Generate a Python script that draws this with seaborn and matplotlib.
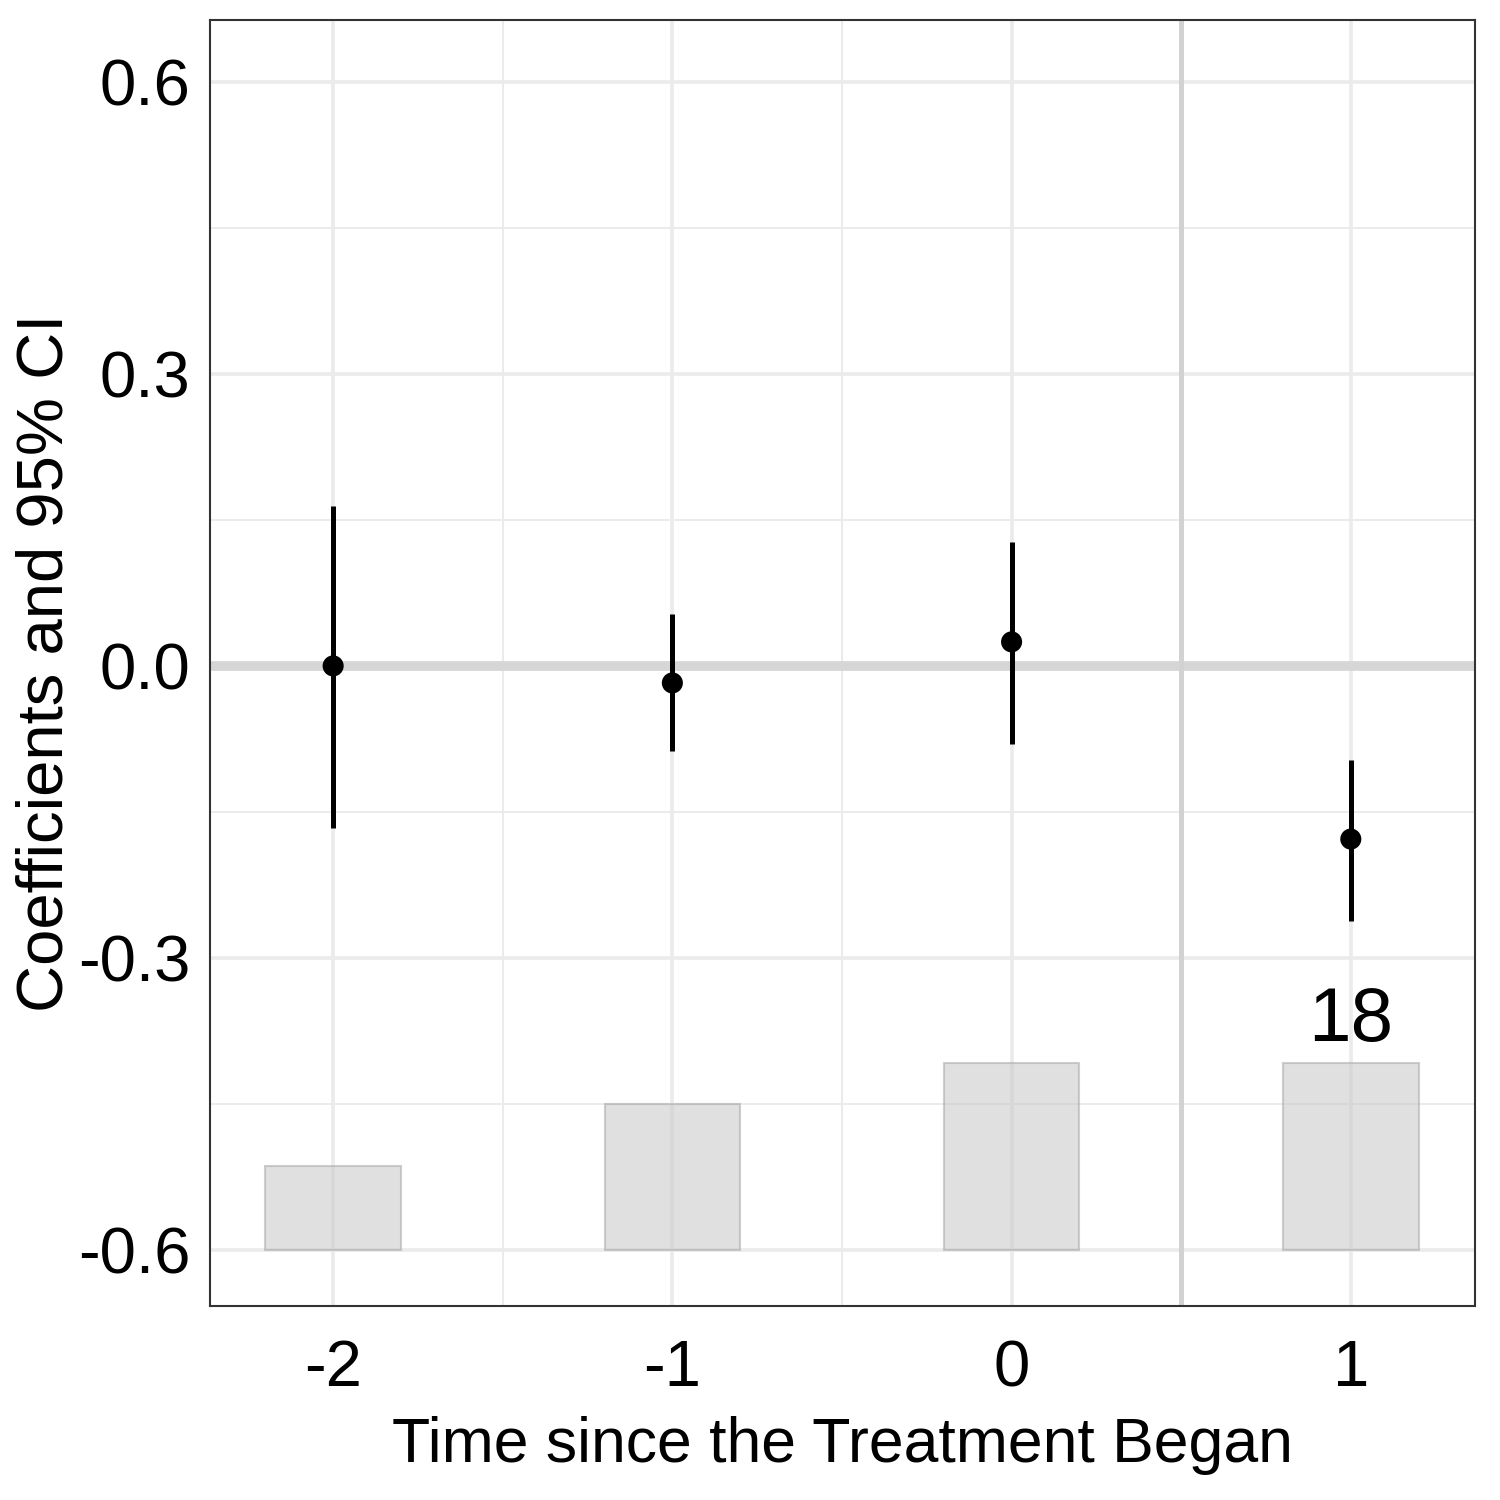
import numpy as np
import pandas as pd
import matplotlib
matplotlib.use("Agg")
import matplotlib.pyplot as plt
import seaborn as sns
from matplotlib.ticker import FixedLocator

# event-study estimates
periods = [-2, -1, 0, 1]
coefs = [0.0, -0.0175, 0.0247, -0.178]
ci_low = [-0.1667, -0.0874, -0.080, -0.262]
ci_high = [0.1646, 0.0535, 0.1276, -0.0967]
counts = [8, 14, 18, 18]

bar_base = -0.6
bar_max_height = 0.1923

sns.set_theme(style="whitegrid")
plt.rcParams['font.family'] = ['Liberation Sans', 'DejaVu Sans']
plt.rcParams['text.color'] = 'black'
plt.rcParams['axes.labelcolor'] = 'black'

df = pd.DataFrame({'period': periods, 'coef': coefs, 'lo': ci_low, 'hi': ci_high,
                   'n': counts})
df['bar_h'] = df['n'] / df['n'].max() * bar_max_height

fig = plt.figure(figsize=(15, 15), dpi=100)
ax = fig.add_axes([0.14, 0.1293, 0.8433, 0.8574])

# grid (theme_bw-like)
ax.set_axisbelow(True)
ax.xaxis.set_major_locator(FixedLocator([-2, -1, 0, 1]))
ax.xaxis.set_minor_locator(FixedLocator([-1.5, -0.5, 0.5]))
ax.yaxis.set_major_locator(FixedLocator([-0.6, -0.3, 0.0, 0.3, 0.6]))
ax.yaxis.set_minor_locator(FixedLocator([-0.45, -0.15, 0.15, 0.45]))
ax.grid(which='major', color='#ebebeb', linewidth=2.6)
ax.grid(which='minor', color='#ebebeb', linewidth=1.4)

# bars for number of units
ax.bar(df['period'], df['bar_h'], width=0.4, bottom=bar_base,
       color='#c8c8c8', alpha=0.55, edgecolor='#a8a8a8', linewidth=1.5, zorder=2)
mx = df['period'][df['n'] == df['n'].max()].iloc[-1]
ax.text(mx, bar_base + bar_max_height + 0.006, str(int(df['n'].max())),
        ha='center', va='bottom', fontsize=55, color='black', zorder=5)

# reference lines
ax.axhline(0, color='#d6d6d6', linewidth=7, zorder=2.5)
ax.axvline(0.5, color='#d2d2d2', linewidth=3.6, zorder=2.5)

# CIs and point estimates
ax.vlines(df['period'], df['lo'], df['hi'], color='black', linewidth=3.6, zorder=3)
sns.scatterplot(data=df, x='period', y='coef', color='black', s=230,
                edgecolor='none', ax=ax, zorder=4)

ax.set_xlim(-2.363, 1.366)
ax.set_ylim(-0.658, 0.664)
ax.set_xticklabels(['-2', '-1', '0', '1'])
ax.set_yticklabels(['-0.6', '-0.3', '0.0', '0.3', '0.6'])
ax.tick_params(which='major', length=10, width=2.6, color='#333333',
               labelsize=47, labelcolor='black', pad=4)
ax.tick_params(axis='x', pad=14)
ax.tick_params(which='minor', length=0)
for sp in ax.spines.values():
    sp.set_visible(True)
    sp.set_color('#333333')
    sp.set_linewidth(1.5)

ax.set_xlabel('Time since the Treatment Began', fontsize=45, labelpad=12)
ax.set_ylabel('Coefficients and 95% CI', fontsize=47, labelpad=2)

fig.savefig('out.png', dpi=100)
